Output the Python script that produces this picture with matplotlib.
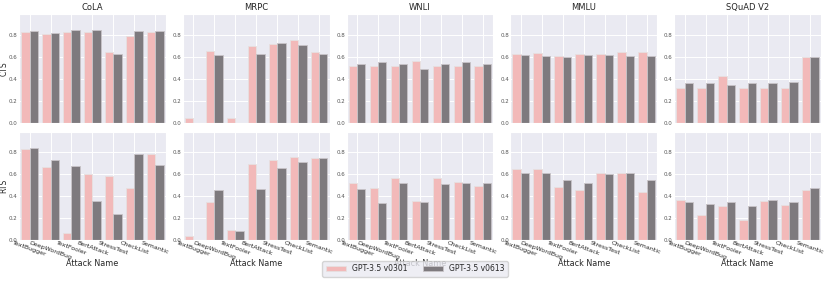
import numpy as np
import matplotlib
matplotlib.use("Agg")
from matplotlib import pyplot as plt
import seaborn as sns

sns.set_style("darkgrid")
plt.rcParams["font.family"] = ["DejaVu Sans"]

datasets = ["CoLA", "MRPC", "WNLI", "MMLU", "SQuAD V2"]
attacks = ["TextBugger", "DeepWordBug", "TextFooler", "BertAttack",
           "StressTest", "CheckList", "Semantic"]
models = ["GPT-3.5 v0301", "GPT-3.5 v0613"]

# CTS values per dataset, one list per model
cts_v0301 = {
    "CoLA": [0.827, 0.806, 0.827, 0.830, 0.641, 0.788, 0.824],
    "MRPC": [0.046, 0.650, 0.043, 0.700, 0.720, 0.750, 0.647],
    "WNLI": [0.519, 0.519, 0.519, 0.562, 0.519, 0.519, 0.519],
    "MMLU": [0.623, 0.635, 0.611, 0.629, 0.623, 0.641, 0.641],
    "SQuAD V2": [0.315, 0.320, 0.421, 0.320, 0.315, 0.320, 0.595],
}
cts_v0613 = {
    "CoLA": [0.837, 0.818, 0.846, 0.846, 0.623, 0.837, 0.837],
    "MRPC": [0.0, 0.620, 0.0, 0.623, 0.730, 0.705, 0.623],
    "WNLI": [0.534, 0.550, 0.534, 0.489, 0.534, 0.550, 0.534],
    "MMLU": [0.617, 0.608, 0.595, 0.617, 0.617, 0.605, 0.608],
    "SQuAD V2": [0.363, 0.363, 0.345, 0.357, 0.363, 0.373, 0.598],
}

# RTS values
rts_v0301 = {
    "CoLA": [0.827, 0.663, 0.064, 0.605, 0.580, 0.479, 0.782],
    "MRPC": [0.040, 0.351, 0.092, 0.696, 0.733, 0.760, 0.751],
    "WNLI": [0.519, 0.479, 0.562, 0.360, 0.562, 0.534, 0.489],
    "MMLU": [0.644, 0.644, 0.482, 0.452, 0.614, 0.614, 0.436],
    "SQuAD V2": [0.366, 0.230, 0.310, 0.180, 0.357, 0.320, 0.458],
}
rts_v0613 = {
    "CoLA": [0.837, 0.727, 0.675, 0.357, 0.241, 0.788, 0.687],
    "MRPC": [0.0, 0.455, 0.085, 0.470, 0.656, 0.712, 0.745],
    "WNLI": [0.464, 0.336, 0.522, 0.348, 0.507, 0.519, 0.522],
    "MMLU": [0.614, 0.614, 0.550, 0.522, 0.605, 0.614, 0.550],
    "SQuAD V2": [0.348, 0.330, 0.348, 0.306, 0.363, 0.348, 0.473],
}

colors = ["#f2b9b9", "#7e7a7e"]
rows = [("CTS", cts_v0301, cts_v0613), ("RTS", rts_v0301, rts_v0613)]

fig, axes = plt.subplots(2, 5, figsize=(8.3, 2.83), dpi=100, sharey=True)
fig.subplots_adjust(left=0.023, right=0.989, top=0.95, bottom=0.152,
                    wspace=0.116, hspace=0.083)

x = np.arange(len(attacks))
w = 0.4
for r, (metric, a_vals, b_vals) in enumerate(rows):
    for c, ds in enumerate(datasets):
        ax = axes[r, c]
        ax.bar(x - w / 2, a_vals[ds], w, color=colors[0], edgecolor="#e6e0e0",
               linewidth=0.6, label=models[0])
        ax.bar(x + w / 2, b_vals[ds], w, color=colors[1], edgecolor="#c8c4c8",
               linewidth=0.6, label=models[1])
        ax.set_xlim(-0.5, len(attacks) - 0.5)
        ax.set_ylim(0, 0.99)
        ax.set_yticks([0.0, 0.2, 0.4, 0.6, 0.8])
        ax.tick_params(axis="y", labelsize=4, pad=1, length=0, labelleft=True,
                       labelcolor="#555555")
        ax.set_xticks(x)
        if r == 0:
            ax.set_title(ds, fontsize=6, pad=3)
            ax.tick_params(axis="x", labelbottom=False, length=0)
        else:
            ax.set_xticklabels(attacks, rotation=-20, ha="center", fontsize=4.5)
            ax.tick_params(axis="x", pad=0, length=0)
            ax.set_xlabel("Attack Name", fontsize=5.8, labelpad=-1)
        if c == 0:
            ax.set_ylabel(metric, fontsize=5.5, labelpad=0.5)
        ax.grid(True, color="white", linewidth=0.7)
        ax.set_axisbelow(True)

handles, labels = axes[0, 0].get_legend_handles_labels()
fig.legend(handles, labels, loc="lower center", ncol=2, fontsize=5.5,
           bbox_to_anchor=(0.5, 0.008), frameon=True, handlelength=2.6,
           columnspacing=2.0, borderpad=0.45)

plt.savefig("out.png", dpi=100)
